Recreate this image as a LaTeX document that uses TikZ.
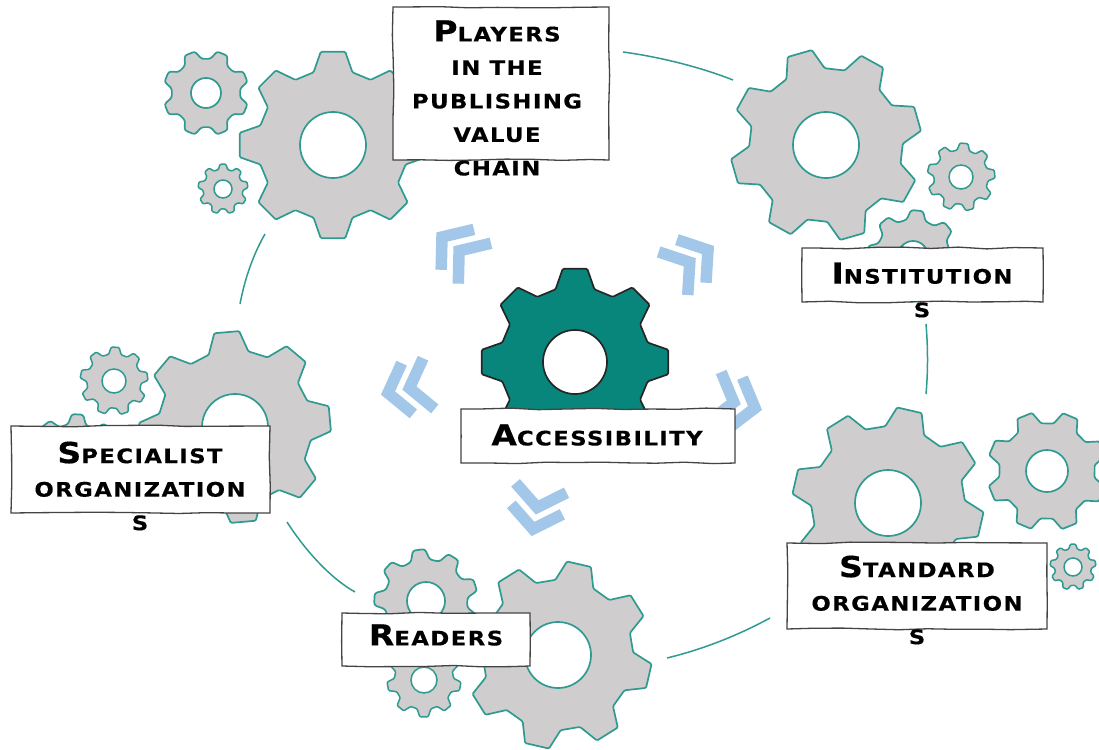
\documentclass[tikz,border=0pt]{standalone}
\usepackage{fontspec}
\setmainfont{DejaVu Sans}
\usetikzlibrary{decorations.pathmorphing}
\newfontfamily\lblfont[FakeStretch=1.14,LetterSpace=7,FakeBold=0.4]{DejaVu Sans Bold}
\definecolor{gearline}{HTML}{2F9A90}
\definecolor{gearfill}{HTML}{CFCDCE}
\definecolor{hubfill}{HTML}{08867C}
\definecolor{chevblue}{HTML}{A2C7E9}
\definecolor{boxline}{HTML}{444444}
\newcommand{\capword}[2]{{\fontsize{29}{33.5}\selectfont #1}\MakeUppercase{#2}}
\newcommand{\gpt}[2]{({\gx+#1*\gR*cos(#2)},{\gy+#1*\gR*sin(#2)})}
% x, y, outer radius, hole radius, rotation, style, teeth
\newcommand{\gearshape}[7]{%
  \def\gx{#1}\def\gy{#2}\def\gR{#3}\def\gA{#5}%
  \pgfmathsetmacro{\stp}{360/#7}%
  \pgfmathsetmacro{\qa}{\stp/6}%
  \pgfmathsetmacro{\qb}{\stp/3}%
  \pgfmathtruncatemacro{\lastk}{#7-1}%
  \draw[#6,even odd rule]
    \gpt{0.80}{\gA-\qb}
    \foreach \k in {1,...,\lastk}{%
      -- \gpt{1}{\gA+(\k-1)*\stp-\qa}
      -- \gpt{1}{\gA+(\k-1)*\stp+\qa}
      -- \gpt{0.80}{\gA+(\k-1)*\stp+\qb}
      -- \gpt{0.80}{\gA+\k*\stp-\qb}
    }
    -- \gpt{1}{\gA+\lastk*\stp-\qa}
    -- \gpt{1}{\gA+\lastk*\stp+\qa}
    -- \gpt{0.80}{\gA+\lastk*\stp+\qb}
    -- cycle
    (#1,#2) circle (#4);}
\newcommand{\chevpair}[3]{%
  \begin{scope}[shift={(#1,#2)},rotate=#3]
    \draw[chevron] (-20,-26) -- (0,0) -- (-20,26);
    \draw[chevron] (-42,-26) -- (-22,0) -- (-42,26);
  \end{scope}}
\tikzset{
  cog/.style={draw=gearline,fill=gearfill,line width=1.7pt,rounded corners=1.2pt},
  cogs/.style={draw=gearline,fill=gearfill,line width=1.7pt,rounded corners=2.5pt},
  cogt/.style={draw=gearline,fill=gearfill,line width=1.5pt,rounded corners=1.1pt},
  hub/.style={draw=black!85,fill=hubfill,line width=1.7pt,rounded corners=1.2pt},
  chevron/.style={draw=chevblue,line width=11.5pt,miter limit=10},
  link/.style={draw=gearline,line width=1.5pt},
  card/.style={draw=boxline,fill=white,line width=1.3pt,inner sep=0pt,
    decorate,decoration={random steps,segment length=28pt,amplitude=0.9pt}},
  lbl/.style={font=\lblfont\fontsize{20}{33.5}\selectfont,align=center,inner sep=0pt,text=black}
}
\begin{document}
\begin{tikzpicture}[x=1pt,y=-1pt]
\pgfmathsetseed{7}
\useasboundingbox (0,0) rectangle (1099,749);
% connectors
\coordinate (c1a) at (623,52);  \coordinate (c1b) at (733,80);
\coordinate (c2a) at (926,324); \coordinate (c2b) at (926,394);
\coordinate (c3a) at (770,618); \coordinate (c3b) at (667,658);
\coordinate (c4a) at (355,592); \coordinate (c4b) at (287,522);
\coordinate (c5a) at (240,304); \coordinate (c5b) at (265,234);
\draw[link] (c1a) .. controls (660,57) and (700,67) .. (c1b);
\draw[link] (c2a) .. controls (928,348) and (928,372) .. (c2b);
\draw[link] (c3a) .. controls (735,637) and (700,650) .. (c3b);
\draw[link] (c4a) .. controls (330,578) and (305,550) .. (c4b);
\draw[link] (c5a) .. controls (245,278) and (253,255) .. (c5b);
% chevrons
\chevpair{442}{237}{141}
\chevpair{708}{250}{34}
\chevpair{755}{408}{-15}
\chevpair{533}{529}{-101}
\chevpair{388}{393}{193}
% top-left gears
\gearshape{206}{93}{43}{15}{22.5}{cogs}{8}
\gearshape{223}{189}{25}{9}{-90}{cogt}{9}
\gearshape{333}{145}{94}{33}{-90}{cog}{8}
% top-right gears
\gearshape{961}{177}{34}{12}{-85}{cogt}{9}
\gearshape{913}{256}{46}{15}{-85}{cogs}{8}
\gearshape{826}{145}{96}{33}{-106}{cog}{8}
% right gears
\gearshape{1047}{471}{60}{21}{-67}{cog}{8}
\gearshape{1073}{567}{23}{9}{-90}{cogt}{9}
\gearshape{888}{503}{96}{33}{-77}{cog}{8}
% bottom gears
\gearshape{426}{601}{52}{19}{-98}{cogs}{9}
\gearshape{424}{680}{37}{13}{90}{cogt}{9}
\gearshape{558}{655}{94}{33}{-77}{cog}{8}
% left gears
\gearshape{114}{381}{34}{12}{-88}{cogt}{9}
\gearshape{75}{463}{49}{17}{-87}{cogs}{9}
\gearshape{235}{427}{96}{33}{-95}{cog}{8}
% centre gear
\gearshape{575}{362}{94}{32}{-90}{hub}{8}
% cards
\node[card,minimum width=216pt,minimum height=153pt] (players) at (501,83.5) {};
\node[card,minimum width=241pt,minimum height=54pt] (institutions) at (922.5,275) {};
\node[card,minimum width=260pt,minimum height=86pt] (standards) at (917,586) {};
\node[card,minimum width=188pt,minimum height=53pt] (readers) at (436,639.5) {};
\node[card,minimum width=259pt,minimum height=87pt] (specialist) at (140.5,469.5) {};
\node[card,minimum width=274pt,minimum height=54pt] (access) at (598,436) {};
% labels
\node[lbl] (tplayers) at (497,98) {\capword{P}{layers}\\\MakeUppercase{in the}\\\MakeUppercase{publishing}\\\MakeUppercase{value}\\\MakeUppercase{chain}};
\node[lbl] (tinst) at (922,290) {\capword{I}{nstitution}\\\MakeUppercase{s}};
\node[lbl] (tstd) at (917,600) {\capword{S}{tandard}\\\MakeUppercase{organization}\\\MakeUppercase{s}};
\node[lbl] (treaders) at (436,635) {\capword{R}{eaders}};
\node[lbl] (tspec) at (140,486) {\capword{S}{pecialist}\\\MakeUppercase{organization}\\\MakeUppercase{s}};
\node[lbl] (taccess) at (597,435) {\capword{A}{ccessibility}};
\end{tikzpicture}
\end{document}
